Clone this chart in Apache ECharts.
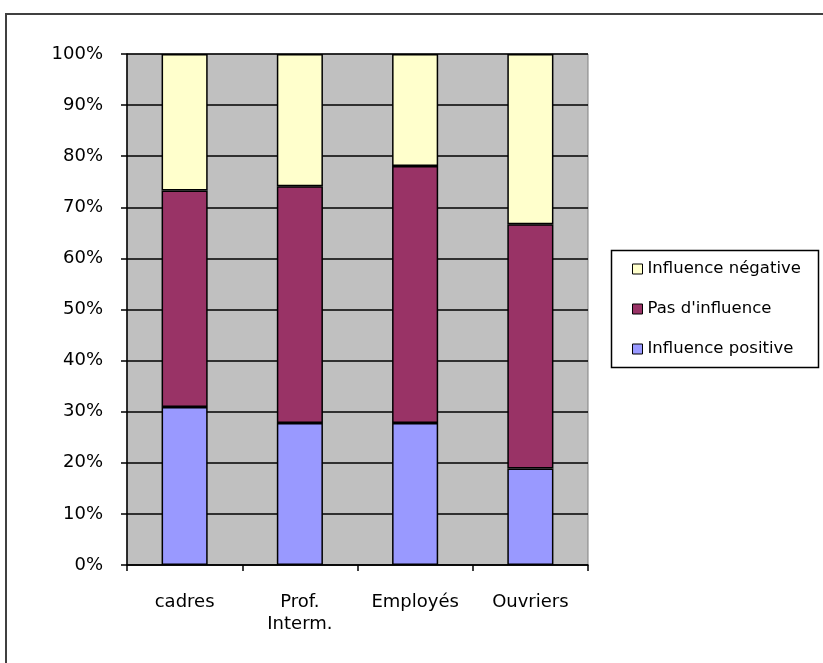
<!DOCTYPE html>
<html>
<head>
<meta charset="utf-8">
<script src="https://cdn.jsdelivr.net/npm/echarts@6/dist/echarts.min.js"></script>
<style>
html,body{margin:0;padding:0;background:#fff;}
#c{width:823px;height:663px;}
</style>
</head>
<body>
<div id="c"></div>
<script>
const categories = ['cadres', 'Prof.\nInterm.', 'Employés', 'Ouvriers'];
const seriesNames = ['Influence positive', "Pas d'influence", 'Influence négative'];
const positive = [30.9, 27.8, 27.8, 18.9];
const noInfluence = [42.4, 46.3, 50.3, 47.8];
const negative = [26.7, 25.9, 21.9, 33.3];
const yTicks = [0, 10, 20, 30, 40, 50, 60, 70, 80, 90, 100];

const FONT = 'DejaVu Sans';
const chart = echarts.init(document.getElementById('c'), null, {renderer: 'canvas'});
const colors = ['#9999FF', '#993366', '#FFFFCC'];
const values = [positive, noInfluence, negative];

chart.setOption({
  animation: false,
  backgroundColor: '#ffffff',
  graphic: [
    {type: 'rect', shape: {x: 6, y: 14, width: 900, height: 800}, style: {fill: 'none', stroke: '#404040', lineWidth: 2}, silent: true},
    {type: 'rect', shape: {x: 611.5, y: 250.5, width: 207, height: 117}, style: {fill: '#ffffff', stroke: '#000000', lineWidth: 1.5}, silent: true, z: -1}
  ],
  legend: {
    orient: 'vertical',
    left: 632,
    top: 259,
    padding: [0, 0, 0, 0],
    itemWidth: 10,
    itemHeight: 10,
    itemGap: 20,
    icon: 'rect',
    data: [seriesNames[2], seriesNames[1], seriesNames[0]],
    textStyle: {fontFamily: FONT, fontSize: 16.5, color: '#000', lineHeight: 20},
    itemStyle: {borderColor: '#000', borderWidth: 1}
  },
  grid: {
    left: 127, right: 235, top: 54, bottom: 98,
    show: true, backgroundColor: '#C0C0C0', borderColor: '#808080', borderWidth: 1
  },
  xAxis: {
    type: 'category',
    data: categories,
    boundaryGap: true,
    axisLine: {lineStyle: {color: '#000', width: 1.5}},
    axisTick: {show: true, length: 6, lineStyle: {color: '#000', width: 1.5}},
    axisLabel: {fontFamily: FONT, fontSize: 18, color: '#000', margin: 26, lineHeight: 22}
  },
  yAxis: {
    type: 'value',
    min: 0, max: 100, interval: 10,
    axisLine: {show: true, lineStyle: {color: '#000', width: 1.5}},
    axisTick: {show: true, length: 6, lineStyle: {color: '#000', width: 1.5}},
    splitLine: {show: true, lineStyle: {color: '#000', width: 1.5}},
    axisLabel: {fontFamily: FONT, fontSize: 18, color: '#000', margin: 24,
      formatter: v => yTicks.includes(v) ? v + '%' : ''}
  },
  series: values.map((d, i) => ({
    name: seriesNames[i],
    type: 'bar',
    stack: 'total',
    data: d,
    barWidth: '40%',
    itemStyle: {color: colors[i], borderColor: '#000', borderWidth: 1.5}
  }))
});
</script>
</body>
</html>
